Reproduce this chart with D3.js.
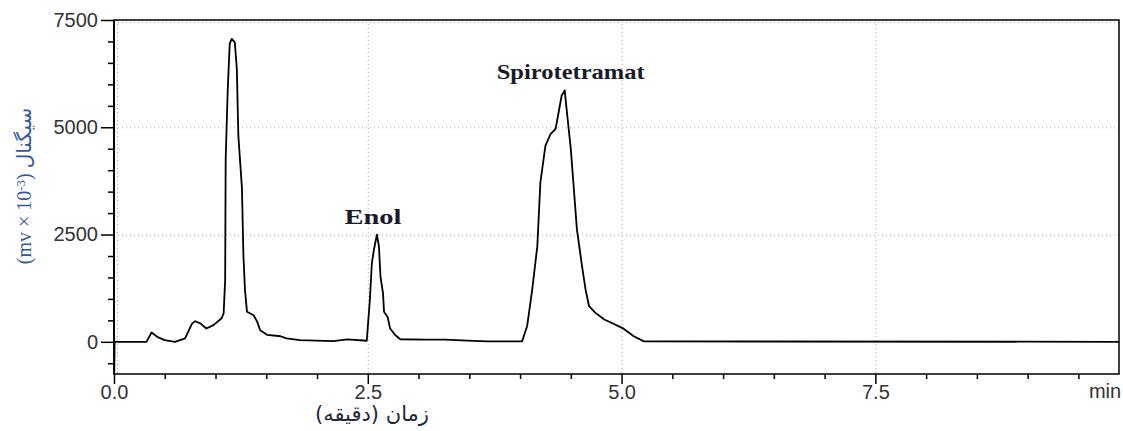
<!DOCTYPE html>
<html><head><meta charset="utf-8">
<script src="https://cdn.jsdelivr.net/npm/d3@7"></script>
<style>body{margin:0;background:#fff}svg{display:block}</style>
</head><body>
<svg id="c" width="1123" height="431"></svg>
<script>
const times = [0,0.003,0.006,0.32,0.37,0.43,0.50,0.60,0.70,0.77,0.80,0.85,0.91,0.98,1.06,1.08,1.095,1.10,1.12,1.14,1.16,1.19,1.21,1.225,1.26,1.275,1.29,1.31,1.375,1.41,1.44,1.51,1.64,1.70,1.83,2.16,2.30,2.49,2.52,2.54,2.56,2.59,2.61,2.625,2.65,2.66,2.695,2.72,2.77,2.82,3.06,3.26,3.54,3.68,3.95,4.02,4.07,4.12,4.17,4.20,4.25,4.30,4.35,4.38,4.41,4.44,4.46,4.50,4.53,4.56,4.61,4.645,4.68,4.74,4.83,4.92,5.01,5.12,5.22,9.9];
const signal = [0,-700,0,0,217,110,40,0,80,430,480,430,310,390,550,660,1440,4250,5860,6950,7060,6980,6360,4800,3600,2000,1220,700,620,470,270,160,130,80,40,15,55,25,970,1830,2140,2500,2220,1520,1130,700,580,310,160,60,50,50,20,10,10,10,370,1220,2230,3710,4570,4840,4960,5350,5740,5860,5390,4490,3560,2620,1770,1220,830,680,520,420,320,130,10,0];
const xMajor = [0,2.5,5,7.5];
const xMajorLabels = ["0.0","2.5","5.0","7.5"];
const xMinor = [0.5,1,1.5,2,3,3.5,4,4.5,5.5,6,6.5,7,8,8.5,9,9.5];
const yMajor = [0,2500,5000,7500];
const yMinor = [-500,500,1000,1500,2000,3000,3500,4000,4500,5500,6000,6500,7000];
const peakNames = ["Enol","Spirotetramat"];
const peakTimes = [2.59,4.44];
const peakValues = [2500,5860];
const peakLabelWidths = [57,148];
const peakLabelShift = [-4,6];

const L=114,R=1119,T=20,B=374;
const svg=d3.select("#c");
const x=d3.scaleLinear().domain([0,9.9]).range([L,R]);
const y=d3.scaleLinear().domain([-750,7500]).range([B,T]);

// grid
const grid=svg.append("g").attr("stroke","#aaa").attr("stroke-width",1).attr("stroke-dasharray","1,3");
[2500,5000].forEach(v=>grid.append("line").attr("x1",L).attr("x2",R).attr("y1",y(v)+0.5).attr("y2",y(v)+0.5));
grid.append("line").attr("x1",L).attr("x2",R).attr("y1",y(7500)+2.5).attr("y2",y(7500)+2.5);
[2.5,5,7.5].forEach(v=>grid.append("line").attr("y1",T).attr("y2",B).attr("x1",x(v)+0.5).attr("x2",x(v)+0.5));
grid.append("line").attr("y1",T).attr("y2",B).attr("x1",L+3.5).attr("x2",L+3.5);

// axes
const font="Liberation Sans, Arial, sans-serif";
const yAx=svg.append("g").attr("transform",`translate(${L},0)`)
 .call(d3.axisLeft(y).tickValues(yMajor).tickSize(13).tickPadding(3).tickFormat(d3.format("d")));
const yAxm=svg.append("g").attr("transform",`translate(${L},0)`)
 .call(d3.axisLeft(y).tickValues(yMinor).tickSize(6).tickFormat(""));
const xAx=svg.append("g").attr("transform",`translate(0,${B})`)
 .call(d3.axisBottom(x).tickValues(xMajor).tickSize(10).tickPadding(1).tickFormat((d,i)=>xMajorLabels[i]));
const xAxm=svg.append("g").attr("transform",`translate(0,${B})`)
 .call(d3.axisBottom(x).tickValues(xMinor).tickSize(5).tickFormat(""));
[yAx,yAxm,xAx,xAxm].forEach(g=>{g.select(".domain").remove();g.selectAll("line").attr("stroke","#000").attr("stroke-width",1.5);
 g.selectAll("text").attr("font-family",font).attr("font-size",20).attr("fill","#333");});

// frame
svg.append("rect").attr("x",L).attr("y",T).attr("width",R-L).attr("height",B-T)
 .attr("fill","none").attr("stroke","#000").attr("stroke-width",1.5);
svg.append("line").attr("x1",L).attr("x2",L).attr("y1",T).attr("y2",B).attr("stroke","#000").attr("stroke-width",2);

// trace
const pts=times.map((t,i)=>[t,signal[i]]);
svg.append("path").datum(pts).attr("fill","none").attr("stroke","#000").attr("stroke-width",1.8)
 .attr("stroke-linejoin","round")
 .attr("d",d3.line().x(d=>x(d[0])).y(d=>y(d[1])));

// peak labels
peakNames.forEach((n,i)=>{
 svg.append("text").attr("x",x(peakTimes[i])+peakLabelShift[i]).attr("y",y(peakValues[i])-11)
  .attr("text-anchor","middle").attr("font-family","Liberation Serif, Times New Roman, serif")
  .attr("font-weight","bold").attr("font-size",20).attr("fill","#1a1a2a")
  .attr("textLength",peakLabelWidths[i]).attr("lengthAdjust","spacingAndGlyphs").text(n);
});

// min label
svg.append("text").attr("x",1105).attr("y",398).attr("text-anchor","middle")
 .attr("font-family",font).attr("font-size",20).attr("fill","#333").text("min");

// axis titles
svg.append("text").attr("x",372).attr("y",421).attr("text-anchor","middle")
 .attr("font-family","DejaVu Sans, Noto Sans, sans-serif").attr("font-size",21).attr("fill","#1f2740")
 .attr("direction","rtl").text("زمان (دقیقه)");
const yt=svg.append("text").attr("transform","translate(31,186) rotate(-90)").attr("text-anchor","middle")
 .attr("font-family","Liberation Serif, DejaVu Sans, serif").attr("font-size",20).attr("fill","#3556a6");
yt.append("tspan").text("(mv × 10");
yt.append("tspan").attr("dy",-6).attr("font-size",13).text("-3");
yt.append("tspan").attr("dy",6).text(") ");
yt.append("tspan").attr("font-family","DejaVu Sans, Noto Sans, sans-serif").attr("font-size",20).text("سیگنال");
</script>
</body></html>
